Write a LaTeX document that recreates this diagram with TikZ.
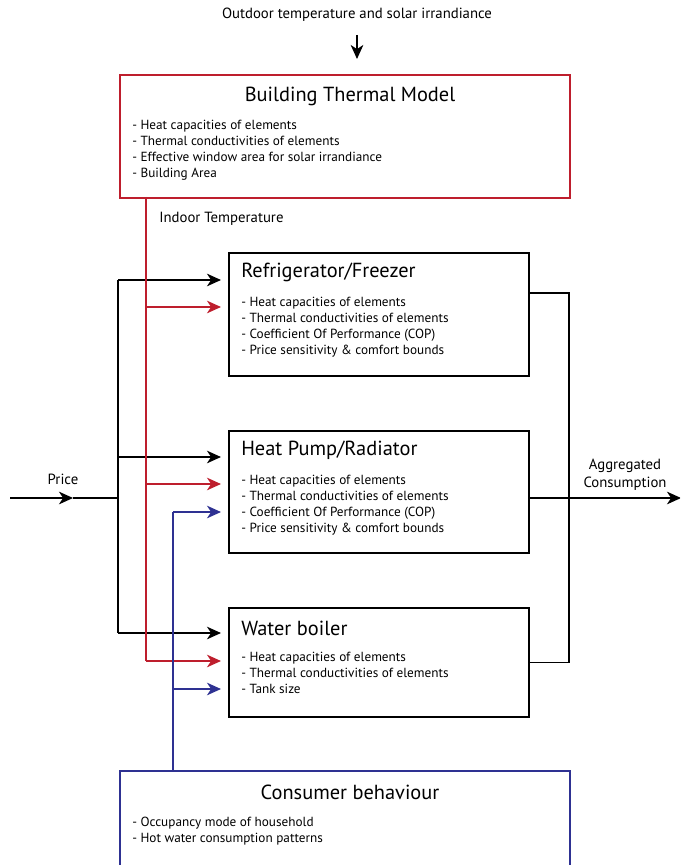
\documentclass[tikz,border=0pt]{standalone}
\usepackage{fontspec}
\setmainfont{PT Sans}
\usetikzlibrary{arrows.meta,positioning}
\definecolor{bred}{RGB}{190,30,45}
\definecolor{bblue}{RGB}{46,49,146}
\tikzset{
	blockbox/.style={rectangle, draw, line width=1.1pt, anchor=north west, inner sep=0pt},
	ttl/.style={font=\fontsize{14.5}{17}\selectfont, inner sep=0pt},
	items/.style={font=\fontsize{9.4}{11.4}\selectfont, align=left, anchor=north west, inner sep=0pt},
	lbl/.style={font=\fontsize{10.5}{12.5}\selectfont, inner sep=0pt},
	wire/.style={line width=0.8pt},
	feed/.style={wire, -{Stealth[length=10pt, width=9pt, inset=3pt]}}
}

\begin{document}
\begin{tikzpicture}[x=0.025cm, y=-0.025cm]
	\useasboundingbox (0,0) rectangle (680,865);
	\clip (0,0) rectangle (680,865);
	% blocks
	\node[blockbox, draw=bred, minimum width=11.25cm, minimum height=3.075cm] at (119,74) (btm) {};
	\node[blockbox, minimum width=7.5cm, minimum height=3.075cm] at (228,252) (fridge) {};
	\node[blockbox, minimum width=7.5cm, minimum height=3.05cm] at (228,430) (hp) {};
	\node[blockbox, minimum width=7.5cm, minimum height=2.725cm] at (228,607) (boiler) {};
	\node[blockbox, draw=bblue, minimum width=11.25cm, minimum height=3cm] at (119,770) (cons) {};
	
	\node[ttl] at (350,96) (btmtitle) {Building Thermal Model};
	\node[items] at (132,120) (btmitems) {- Heat capacities of elements\\- Thermal conductivities of elements\\- Effective window area for solar irrandiance\\- Building Area};
	
	\node[ttl, anchor=west] at (241,272) (fridgetitle) {Refrigerator/Freezer};
	\node[items] at (241,297) (fridgeitems) {- Heat capacities of elements\\- Thermal conductivities of elements\\- Coefficient Of Performance (COP)\\- Price sensitivity \& comfort bounds};
	
	\node[ttl, anchor=west] at (241,450) (hptitle) {Heat Pump/Radiator};
	\node[items] at (241,475) (hpitems) {- Heat capacities of elements\\- Thermal conductivities of elements\\- Coefficient Of Performance (COP)\\- Price sensitivity \& comfort bounds};
	
	\node[ttl, anchor=west] at (241,628) (boilertitle) {Water boiler};
	\node[items] at (241,652) (boileritems) {- Heat capacities of elements\\- Thermal conductivities of elements\\- Tank size};
	
	\node[ttl] at (350,792) (constitle) {Consumer behaviour};
	\node[items] at (132,817) (consitems) {- Occupancy mode of household\\- Hot water consumption patterns};
	
	% labels
	\node[lbl] at (357,15) (outdoor) {Outdoor temperature and solar irrandiance};
	\node[lbl, anchor=west] at (159,219) (indoor) {Indoor Temperature};
	\node[lbl] at (63,479) (price) {Price};
	\node[lbl, align=center] at (625,475) (aggr) {Aggregated\\Consumption};
	
	% outdoor input
	\coordinate (oa) at (357,35);
	\draw[feed] (oa) -- (oa |- 0,59);
	
	% price
	\coordinate (pin) at (10,498);
	\coordinate (pmid) at (73,498);
	\coordinate (psplit) at (118,498);
	\coordinate (pf) at (118,280);
	\coordinate (ph) at (118,457);
	\coordinate (pb) at (118,633);
	\draw[feed] (pin) -- (pmid);
	\draw[wire] (pmid) -- (psplit);
	\draw[wire] (pf) -- (pb);
	\draw[feed] (pf) -- ([xshift=-5]pf -| fridge.west);
	\draw[feed] (ph) -- ([xshift=-5]ph -| hp.west);
	\draw[feed] (pb) -- ([xshift=-5]pb -| boiler.west);
	
	% indoor temperature
	\coordinate (tin) at (146,197);
	\coordinate (tf) at (146,307);
	\coordinate (th) at (146,484);
	\coordinate (tb) at (146,661);
	\draw[wire, bred] (tin) -- (tb);
	\draw[feed, bred] (tf) -- ([xshift=-5]tf -| fridge.west);
	\draw[feed, bred] (th) -- ([xshift=-5]th -| hp.west);
	\draw[feed, bred] (tb) -- ([xshift=-5]tb -| boiler.west);
	
	% consumer behaviour
	\coordinate (cin) at (173,770);
	\coordinate (ch) at (173,512);
	\coordinate (cb) at (173,689);
	\draw[wire, bblue] (cin) -- (ch);
	\draw[feed, bblue] (ch) -- ([xshift=-5]ch -| hp.west);
	\draw[feed, bblue] (cb) -- ([xshift=-5]cb -| boiler.west);
	
	% aggregation
	\coordinate (af) at (569,293);
	\draw[wire] (af -| fridge.east) -- (af) -- (af |- boiler.east) -- (boiler.east);
	\coordinate (ah) at (528,498);
	\draw[feed] (ah) -- (681,498);
\end{tikzpicture}
\end{document}
